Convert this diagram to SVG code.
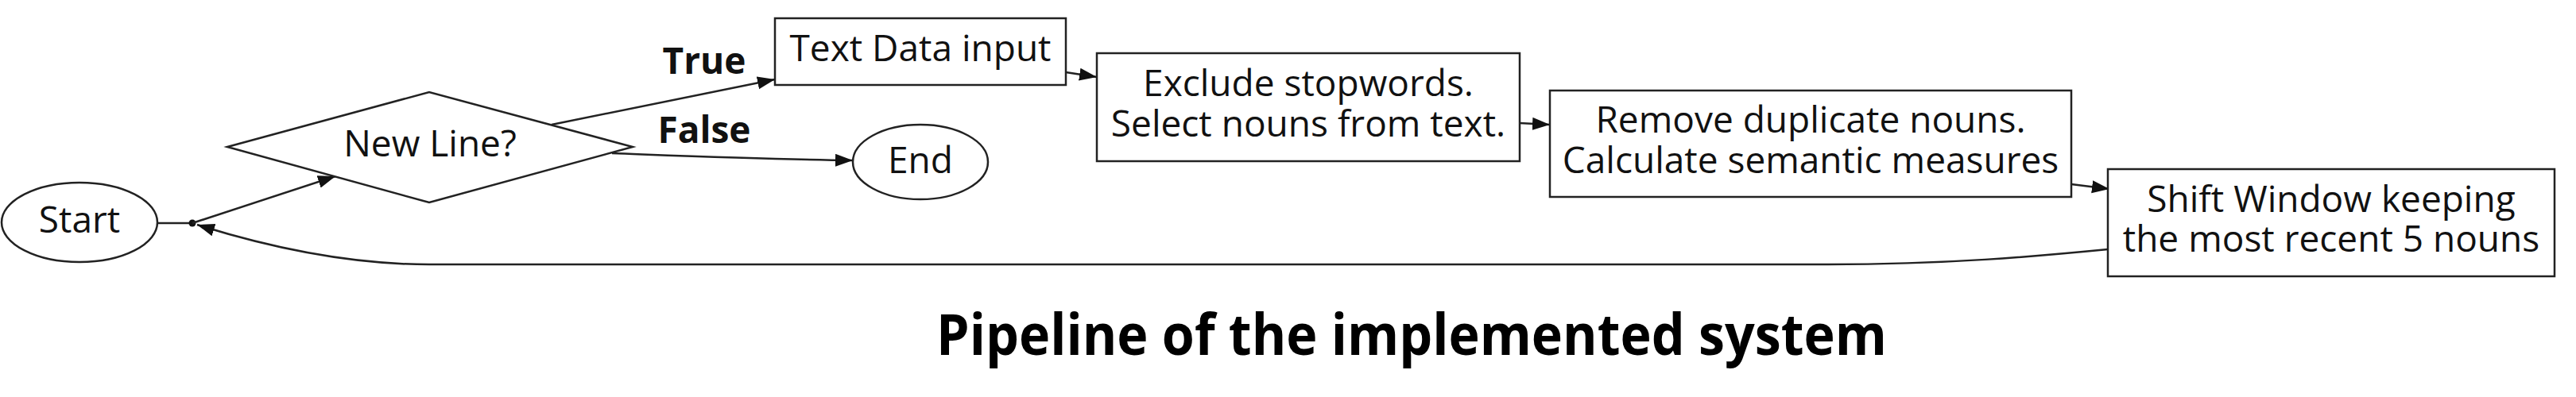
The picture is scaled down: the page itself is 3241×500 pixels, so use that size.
<svg xmlns="http://www.w3.org/2000/svg" width="3241" height="500" viewBox="0 0 3241 500">
<defs>
<style>
.shape{fill:#fff;stroke:#222;stroke-width:2.5}
.edge{fill:none;stroke:#222;stroke-width:2.5}
.t{font-family:"Open Sans","Noto Sans","Liberation Sans",sans-serif;font-size:46px;fill:#111;text-anchor:middle}
.b{font-family:"Open Sans","Noto Sans","Liberation Sans",sans-serif;font-size:46px;font-weight:bold;fill:#111;text-anchor:middle}
.title{font-family:"Open Sans","Noto Sans","Liberation Sans",sans-serif;font-size:71px;font-weight:bold;fill:#000;text-anchor:middle}
</style>
<marker id="arr" markerUnits="userSpaceOnUse" markerWidth="24" markerHeight="18" refX="22" refY="8" orient="auto">
<path d="M0,0 L22,8 L0,16 z" fill="#111"/>
</marker>
</defs>
<rect width="3241" height="500" fill="#fff"/>
<g id="connectors">
<line class="edge" x1="198" y1="281" x2="242" y2="281"/>
<circle cx="242" cy="281" r="4.5" fill="#111"/>
<line class="edge" x1="242" y1="281" x2="422" y2="222" marker-end="url(#arr)"/>
<line class="edge" x1="694" y1="157" x2="975" y2="100" marker-end="url(#arr)"/>
<path class="edge" d="M770,193 C880,197 980,201 1073,202" marker-end="url(#arr)"/>
<line class="edge" x1="1341" y1="91" x2="1380" y2="97" marker-end="url(#arr)"/>
<line class="edge" x1="1912" y1="155" x2="1950" y2="157" marker-end="url(#arr)"/>
<line class="edge" x1="2606" y1="232" x2="2654" y2="238" marker-end="url(#arr)"/>
<path class="edge" d="M2652,314 C2560,323 2450,333 2300,333 L540,333 C440,333 340,312 248,283" marker-end="url(#arr)"/>
<text class="b" x="886" y="93">True</text>
<text class="b" x="886" y="180">False</text>
</g>
<g id="start">
<ellipse class="shape" cx="100" cy="280" rx="98" ry="50"/>
<text class="t" x="100" y="293">Start</text>
</g>
<g id="newline">
<polygon class="shape" points="286,185 540,116 796,185 540,255"/>
<text class="t" x="541" y="197">New Line?</text>
</g>
<g id="end">
<ellipse class="shape" cx="1158" cy="204" rx="85" ry="47"/>
<text class="t" x="1158" y="218">End</text>
</g>
<g id="textdata">
<rect class="shape" x="975" y="23" width="366" height="84"/>
<text class="t" x="1158" y="77">Text Data input</text>
</g>
<g id="exclude">
<rect class="shape" x="1380" y="67" width="532" height="136"/>
<text class="t" x="1646" y="121">Exclude stopwords.</text>
<text class="t" x="1646" y="172">Select nouns from text.</text>
</g>
<g id="remove">
<rect class="shape" x="1950" y="114" width="656" height="134"/>
<text class="t" x="2278" y="167">Remove duplicate nouns.</text>
<text class="t" x="2278" y="218">Calculate semantic measures</text>
</g>
<g id="shift">
<rect class="shape" x="2652" y="213" width="562" height="135"/>
<text class="t" x="2933" y="267">Shift Window keeping</text>
<text class="t" x="2933" y="317">the most recent 5 nouns</text>
</g>
<text class="title" x="1776" y="447" textLength="1196" lengthAdjust="spacingAndGlyphs">Pipeline of the implemented system</text>
</svg>
